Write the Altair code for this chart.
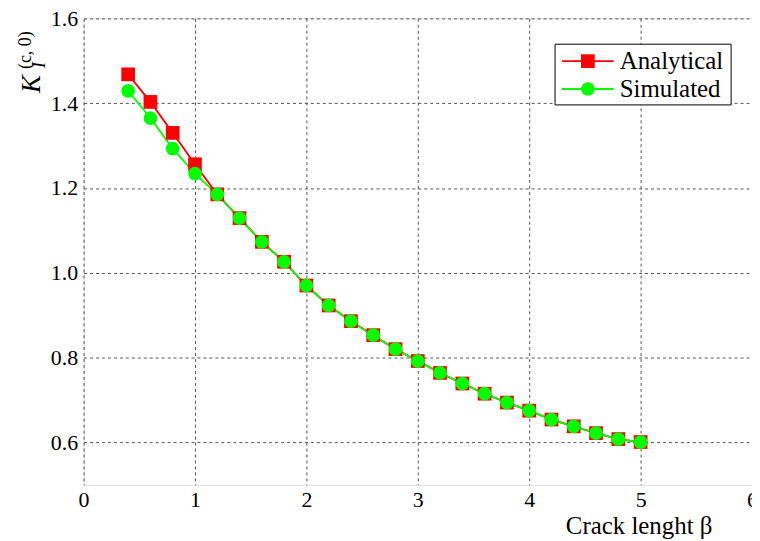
import altair as alt
import pandas as pd

beta = [0.4, 0.6, 0.8, 1.0, 1.2, 1.4, 1.6, 1.8, 2.0, 2.2, 2.4, 2.6, 2.8, 3.0,
        3.2, 3.4, 3.6, 3.8, 4.0, 4.2, 4.4, 4.6, 4.8, 5.0]
analytical = [1.468, 1.403, 1.330, 1.256, 1.185, 1.129, 1.073, 1.026, 0.970,
              0.923, 0.886, 0.853, 0.820, 0.792, 0.764, 0.739, 0.715, 0.694,
              0.675, 0.654, 0.638, 0.622, 0.608, 0.601]
simulated = [1.429, 1.365, 1.293, 1.234, 1.185, 1.129, 1.073, 1.026, 0.970,
             0.923, 0.886, 0.853, 0.820, 0.792, 0.764, 0.739, 0.715, 0.694,
             0.675, 0.654, 0.638, 0.622, 0.608, 0.601]
series = ["Analytical", "Simulated"]
colors = ["#ff0000", "#00ff00"]
shapes = ["square", "circle"]
x_ticks = [0, 1, 2, 3, 4, 5, 6]
y_ticks = [0.6, 0.8, 1.0, 1.2, 1.4, 1.6]

FONT = "'Liberation Serif', 'DejaVu Serif', serif"

rows = []
for s, vals in zip(series, [analytical, simulated]):
    for i, (b, v) in enumerate(zip(beta, vals)):
        rows.append({"beta": b, "K": v, "series": s, "order": i})
df = pd.DataFrame(rows)

xs = alt.Scale(domain=[0, 6], nice=False)
ys = alt.Scale(domain=[0.5, 1.6], nice=False)

x_axis = alt.Axis(values=x_ticks, format="d", grid=True, gridDash=[3, 3],
                  gridColor="#555555", gridWidth=1, ticks=False, domain=False,
                  labelFont=FONT, labelFontSize=22, labelColor="black",
                  labelPadding=5, labelFlush=False, labelOverlap=False,
                  title="Crack lenght β", titleFont=FONT, titleFontSize=25,
                  titleFontWeight="normal", titleColor="black",
                  titleX=558, titleY=49, titleAlign="center",
                  titleBaseline="alphabetic")
y_axis = alt.Axis(values=y_ticks, format=".1f", grid=True, gridDash=[3, 3],
                  gridColor="#555555", gridWidth=1, ticks=False, domain=False,
                  labelFont=FONT, labelFontSize=22, labelColor="black",
                  labelPadding=6, title=None)

color = alt.Color("series:N", scale=alt.Scale(domain=series, range=colors), legend=None)
shape = alt.Shape("series:N", scale=alt.Scale(domain=series, range=shapes), legend=None)

base = alt.Chart(df)
lines = base.mark_line(strokeWidth=1.8).encode(
    x=alt.X("beta:Q", scale=xs, axis=x_axis),
    y=alt.Y("K:Q", scale=ys, axis=y_axis),
    color=color, detail="series:N", order="order:Q")
points = base.mark_point(filled=True, size=190, opacity=1).encode(
    x=alt.X("beta:Q", scale=xs, axis=x_axis),
    y=alt.Y("K:Q", scale=ys, axis=y_axis),
    color=color, shape=shape)


def label(txt, x, y, size, style="normal", align="center"):
    return alt.Chart(pd.DataFrame({"t": [txt]})).mark_text(
        font=FONT, fontSize=size, fontStyle=style, angle=270, align=align,
        baseline="middle", color="black").encode(
        text="t:N", x=alt.value(x), y=alt.value(y))


# y-axis title K_I^(c,0)
ttl_K = label("K", -52, 66, 27, "italic")
ttl_I = label("I", -44, 47, 18, "italic")
ttl_sup = label("(c, 0)", -58, 32, 18)


def one(t):
    return alt.Chart(pd.DataFrame({"t": [t]}))


# legend
leg_box = one("").mark_rect(
    fill="white", stroke="black", strokeWidth=1).encode(
    x=alt.value(474), x2=alt.value(651), y=alt.value(26), y2=alt.value(87))
leg_layers = [leg_box]
for s, c, sh, yy in zip(series, colors, shapes, [43, 71]):
    leg_layers.append(one(s).mark_rule(color=c, strokeWidth=1.8).encode(
        x=alt.value(481), x2=alt.value(533), y=alt.value(yy)))
    leg_layers.append(one(s).mark_point(
        filled=True, shape=sh, size=190, opacity=1, color=c).encode(
        x=alt.value(507), y=alt.value(yy)))
    leg_layers.append(one(s).mark_text(
        font=FONT, fontSize=25, align="left", baseline="middle", color="black").encode(
        text="t:N", x=alt.value(539), y=alt.value(yy)))

chart = alt.layer(
    lines, points, ttl_K, ttl_I, ttl_sup, *leg_layers
).properties(
    width=672, height=469,
    autosize=alt.AutoSizeParams(type="none"),
    padding={"left": 76, "top": 9, "right": 0, "bottom": 53},
).configure_view(stroke="black", strokeWidth=2.2).configure(background="white")

chart.save("out.html", embed_options={"renderer": "svg", "actions": False})
